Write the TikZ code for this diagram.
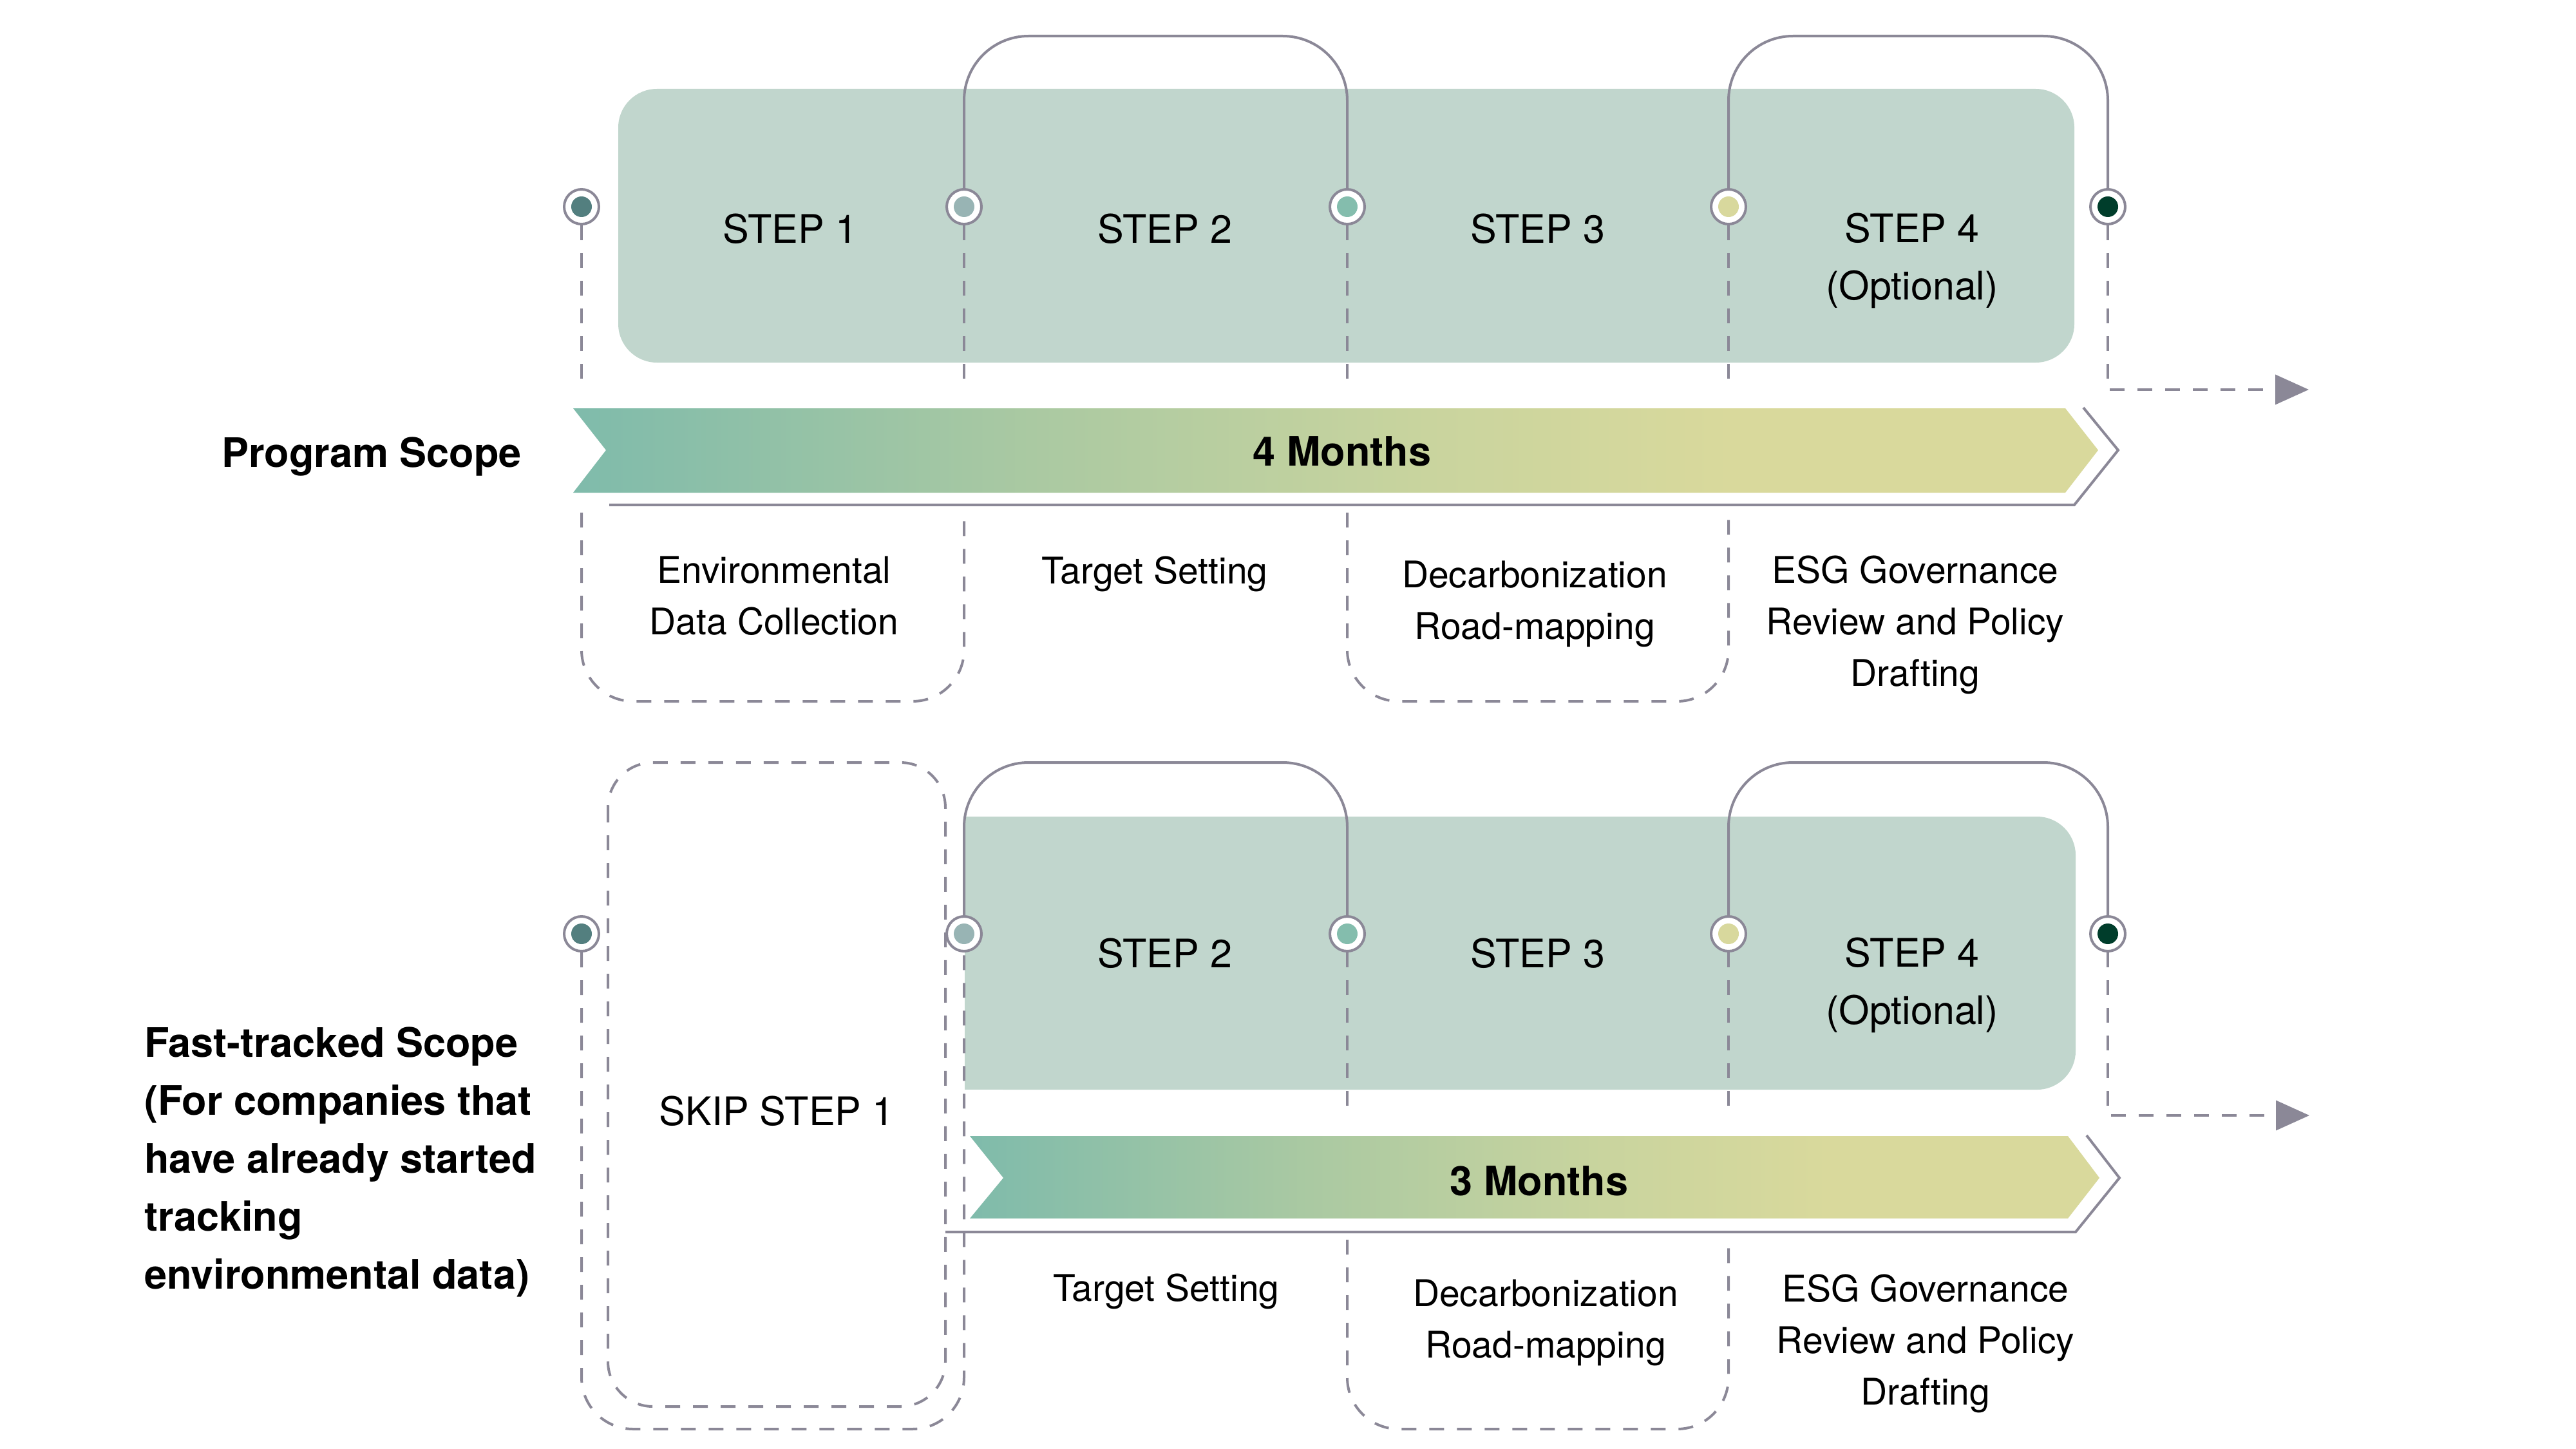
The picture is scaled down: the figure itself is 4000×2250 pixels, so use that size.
\documentclass[tikz,border=0pt]{standalone}
\usepackage{fontspec}
\setmainfont{TeX Gyre Heros}
\usetikzlibrary{arrows.meta,positioning}

\definecolor{panelsage}{HTML}{C1D6CD}
\definecolor{linegrey}{HTML}{8B8897}
\definecolor{dotslate}{HTML}{537F7F}
\definecolor{dotmist}{HTML}{98B4B4}
\definecolor{dotmint}{HTML}{84BDAD}
\definecolor{dotstraw}{HTML}{D8D89D}
\definecolor{dotforest}{HTML}{003D2B}
\definecolor{bandteal}{HTML}{7FBBAB}
\definecolor{bandsage}{HTML}{AAC9A2}
\definecolor{bandlime}{HTML}{C9D49E}
\definecolor{bandstraw}{HTML}{D9D99C}

\pgfdeclarehorizontalshading{bandfade}{100bp}{color(0bp)=(bandteal); color(25bp)=(bandteal);
  color(40bp)=(bandsage); color(53bp)=(bandlime); color(63bp)=(bandstraw); color(100bp)=(bandstraw)}

\begin{document}
\begin{tikzpicture}[
    x=1pt, y=-1pt,
    panel/.style={fill=panelsage, rounded corners=60pt},
    milestone/.style={circle, draw=linegrey, line width=4pt, fill=white, minimum size=54pt, inner sep=0pt,
        path picture={\fill[#1] (path picture bounding box.center) circle[radius=16pt];}},
    bracket/.style={draw=linegrey, line width=4pt, rounded corners=100pt},
    guide/.style={draw=linegrey, line width=4pt, dash pattern=on 23pt off 20pt},
    trail/.style={guide, rounded corners=80pt},
    onward/.style={guide, -{Triangle[length=52pt, width=46pt]}},
    band/.style={shading=bandfade},
    rim/.style={draw=linegrey, line width=4pt},
    steplabel/.style={font=\fontsize{61}{89}\selectfont, align=center, inner sep=0pt},
    tasklabel/.style={font=\fontsize{57}{80}\selectfont, align=center, inner sep=0pt},
    monthlabel/.style={font=\fontsize{63}{90}\selectfont\bfseries, inner sep=0pt},
    scopelabel/.style={font=\fontsize{63}{90}\selectfont\bfseries, align=left, inner sep=0pt}
]
\useasboundingbox (0,0) rectangle (4000,2250);

% full programme
\fill[panel] (960,138) rectangle (3221,563);
\coordinate (topbar) at (0,56);
\coordinate (topgap) at (0,605);
\coordinate (topresume) at (0,796);
\coordinate (topfloor) at (0,1089);
\coordinate (toptip) at (3585,605);
\node[milestone=dotslate] (t1) at (903,321) {};
\node[milestone=dotmist] (t2) at (1497,321) {};
\node[milestone=dotmint] (t3) at (2092,321) {};
\node[milestone=dotstraw] (t4) at (2684,321) {};
\node[milestone=dotforest] (t5) at (3273,321) {};
\draw[bracket] (t2.north) |- (t3 |- topbar) -- (t3.north);
\draw[bracket] (t4.north) |- (t5 |- topbar) -- (t5.north);
\draw[guide] (t1.south) -- (t1 |- topgap);
\draw[guide] (t2.south) -- (t2 |- topgap);
\draw[guide] (t3.south) -- (t3 |- topgap);
\draw[guide] (t4.south) -- (t4 |- topgap);
\draw[trail] (t1 |- topresume) -- (t1 |- topfloor) -- (t2 |- topfloor) -- (t2 |- topresume);
\draw[trail] (t3 |- topresume) -- (t3 |- topfloor) -- (t4 |- topfloor) -- (t4 |- topresume);
\draw[onward] (t5.south) |- (toptip);
\shade[band] (890,634) -- (3207,634) -- (3258,699) -- (3207,765) -- (890,765) -- (941,699) -- cycle;
\draw[rim] (946,784) -- (3221,784) -- (3289,699) -- (3235,633);
\node[steplabel] (step1) at (1227,355) {STEP 1};
\node[steplabel] (step2) at (1809,355) {STEP 2};
\node[steplabel] (step3) at (2388,355) {STEP 3};
\node[steplabel] (step4) at (2969,405) {STEP 4\\(Optional)};
\node[monthlabel] (topspan) at (2084,701) {4 Months};
\node[scopelabel] (programscope) at (577,709) {Program Scope};
\node[tasklabel] (collect) at (1202,925) {Environmental\\Data Collection};
\node[tasklabel] (target) at (1793,891) {Target Setting};
\node[tasklabel] (roadmap) at (2383,938) {Decarbonization\\Road-mapping};
\node[tasklabel] (govern) at (2974,970) {ESG Governance\\Review and Policy\\Drafting};

% fast-tracked programme
\fill[panel] (1498,1268) rectangle (3223,1692);
\fill[panelsage] (1498,1268) rectangle (1600,1692);
\coordinate (lowbar) at (0,1184);
\coordinate (lowgap) at (0,1732);
\coordinate (lowresume) at (0,1925);
\coordinate (lowfloor) at (0,2219);
\coordinate (lowtip) at (3586,1732);
\draw[guide, rounded corners=70pt] (944,1184) rectangle (1468,2184);
\node[milestone=dotslate] (b1) at (903,1450) {};
\node[milestone=dotmist] (b2) at (1497,1450) {};
\node[milestone=dotmint] (b3) at (2092,1450) {};
\node[milestone=dotstraw] (b4) at (2684,1450) {};
\node[milestone=dotforest] (b5) at (3273,1450) {};
\draw[bracket] (b2.north) |- (b3 |- lowbar) -- (b3.north);
\draw[bracket] (b4.north) |- (b5 |- lowbar) -- (b5.north);
\draw[trail] (b1.south) -- (b1 |- lowfloor) -- (b2 |- lowfloor) -- (b2.south);
\draw[guide] (b3.south) -- (b3 |- lowgap);
\draw[guide] (b4.south) -- (b4 |- lowgap);
\draw[trail] (b3 |- lowresume) -- (b3 |- lowfloor) -- (b4 |- lowfloor) -- (b4 |- lowresume);
\draw[onward] (b5.south) |- (lowtip);
\shade[band] (1506,1764) -- (3211,1764) -- (3260,1829) -- (3211,1892) -- (1506,1892) -- (1558,1829) -- cycle;
\draw[rim] (1468,1913) -- (3223,1913) -- (3291,1829) -- (3240,1763);
\node[steplabel] (skip) at (1206,1725) {SKIP STEP 1};
\node[steplabel] (fast2) at (1809,1480) {STEP 2};
\node[steplabel] (fast3) at (2388,1480) {STEP 3};
\node[steplabel] (fast4) at (2969,1530) {STEP 4\\(Optional)};
\node[monthlabel] (lowspan) at (2390,1834) {3 Months};
\node[scopelabel, anchor=west] (fastscope) at (224,1804) {Fast-tracked Scope\\(For companies that\\have already started\\tracking\\environmental data)};
\node[tasklabel] (fasttarget) at (1811,2005) {Target Setting};
\node[tasklabel] (fastroadmap) at (2400,2054) {Decarbonization\\Road-mapping};
\node[tasklabel] (fastgovern) at (2990,2086) {ESG Governance\\Review and Policy\\Drafting};
\end{tikzpicture}
\end{document}
